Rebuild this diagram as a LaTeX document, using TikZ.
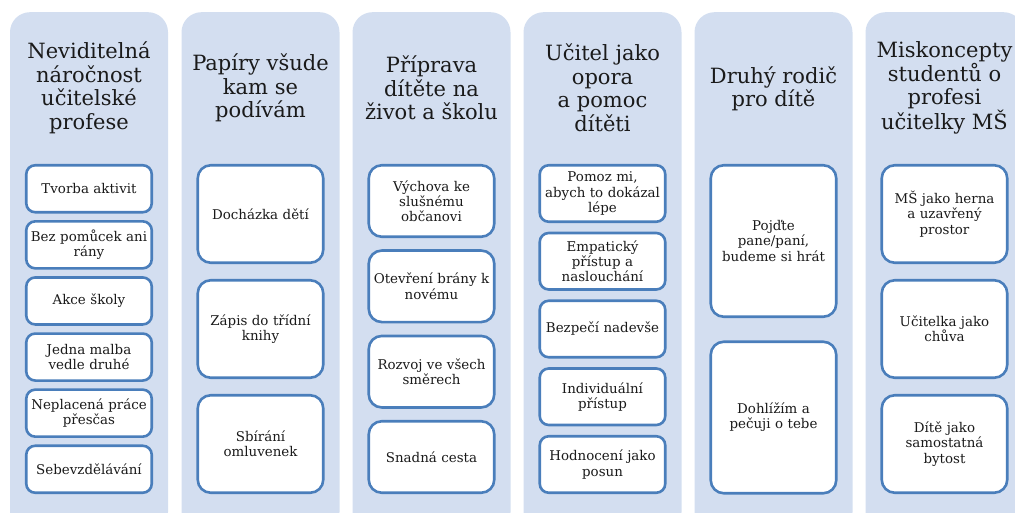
\documentclass[tikz,border=0pt]{standalone}
\usepackage{fontspec}
\setmainfont{DejaVu Serif}
\definecolor{colbg}{HTML}{D3DEF0}
\definecolor{boxline}{HTML}{4A7EBB}
\definecolor{txt}{HTML}{1A1A1A}
\begin{document}
\begin{tikzpicture}[x=1pt,y=1pt,
  column/.style={fill=colbg, draw=none, rounded corners=20pt, minimum width=158pt, minimum height=520pt, anchor=north, inner sep=0pt},
  title/.style={align=center, text=txt, font=\fontsize{21}{23.5}\selectfont, inner sep=0pt},
  item/.style={draw=boxline, line width=2.6pt, fill=white, rounded corners=9pt, align=center, text=txt,
     font=\fontsize{13.4}{15.2}\selectfont, minimum width=125.5pt, text width=124pt, inner sep=0.5pt},
  big/.style={item, rounded corners=13pt}]
\useasboundingbox (0,0) rectangle (1015,-513);
\clip (0,0) rectangle (1015,-513);
% column backgrounds
\node[column] (c1) at (89,-12) {};
\node[column] (c2) at (260.5,-12) {};
\node[column] (c3) at (431.5,-12) {};
\node[column] (c4) at (602.5,-12) {};
\node[column] (c5) at (773.5,-12) {};
\node[column] (c6) at (944.5,-12) {};
% titles
\node[title] (t1) at (89,-88) {Neviditelná\\náročnost\\učitelské\\profese};
\node[title] (t2) at (260.5,-88) {Papíry všude\\kam se\\podívám};
\node[title] (t3) at (431.5,-88) {Příprava\\dítěte na\\život a školu};
\node[title] (t4) at (602.5,-88) {Učitel jako\\opora\\a pomoc\\dítěti};
\node[title] (t5) at (773.5,-89) {Druhý rodič\\pro dítě};
\node[title] (t6) at (944.5,-88) {Miskoncepty\\studentů o\\profesi\\učitelky MŠ};
% column 1
\node[item, minimum height=47pt] (a1) at (89,-188.75) {Tvorba aktivit};
\node[item, minimum height=47pt] (a2) at (89,-244.85) {Bez pomůcek ani\\rány};
\node[item, minimum height=47pt] (a3) at (89,-300.95) {Akce školy};
\node[item, minimum height=47pt] (a4) at (89,-357.05) {Jedna malba\\vedle druhé};
\node[item, minimum height=47pt] (a5) at (89,-413.15) {Neplacená práce\\přesčas};
\node[item, minimum height=47pt] (a6) at (89,-469.25) {Sebevzdělávání};
% column 2
\node[big, minimum height=97.5pt] (b1) at (260.5,-214) {Docházka dětí};
\node[big, minimum height=97.5pt] (b2) at (260.5,-329) {Zápis do třídní\\knihy};
\node[big, minimum height=97.5pt] (b3) at (260.5,-444) {Sbírání\\omluvenek};
% column 3
\node[big, minimum height=71.5pt] (d1) at (431.5,-201) {Výchova ke\\slušnému\\občanovi};
\node[big, minimum height=71.5pt] (d2) at (431.5,-286.3) {Otevření brány k\\novému};
\node[big, minimum height=71.5pt] (d3) at (431.5,-371.7) {Rozvoj ve všech\\směrech};
\node[big, minimum height=71.5pt] (d4) at (431.5,-457) {Snadná cesta};
% column 4
\node[item, minimum height=56.5pt] (e1) at (602.5,-193.5) {Pomoz mi,\\abych to dokázal\\lépe};
\node[item, minimum height=56.5pt] (e2) at (602.5,-261.25) {Empatický\\přístup a\\naslouchání};
\node[item, minimum height=56.5pt] (e3) at (602.5,-329) {Bezpečí nadevše};
\node[item, minimum height=56.5pt] (e4) at (602.5,-396.75) {Individuální\\přístup};
\node[item, minimum height=56.5pt] (e5) at (602.5,-464.5) {Hodnocení jako\\posun};
% column 5
\node[big, minimum height=151.5pt] (f1) at (773.5,-241) {Pojďte\\pane/paní,\\budeme si hrát};
\node[big, minimum height=151.5pt] (f2) at (773.5,-417.5) {Dohlížím a\\pečuji o tebe};
% column 6
\node[big, minimum height=97.5pt] (g1) at (944.5,-214) {MŠ jako herna\\a uzavřený\\prostor};
\node[big, minimum height=97.5pt] (g2) at (944.5,-329) {Učitelka jako\\chůva};
\node[big, minimum height=97.5pt] (g3) at (944.5,-444) {Dítě jako\\samostatná\\bytost};
\end{tikzpicture}
\end{document}
